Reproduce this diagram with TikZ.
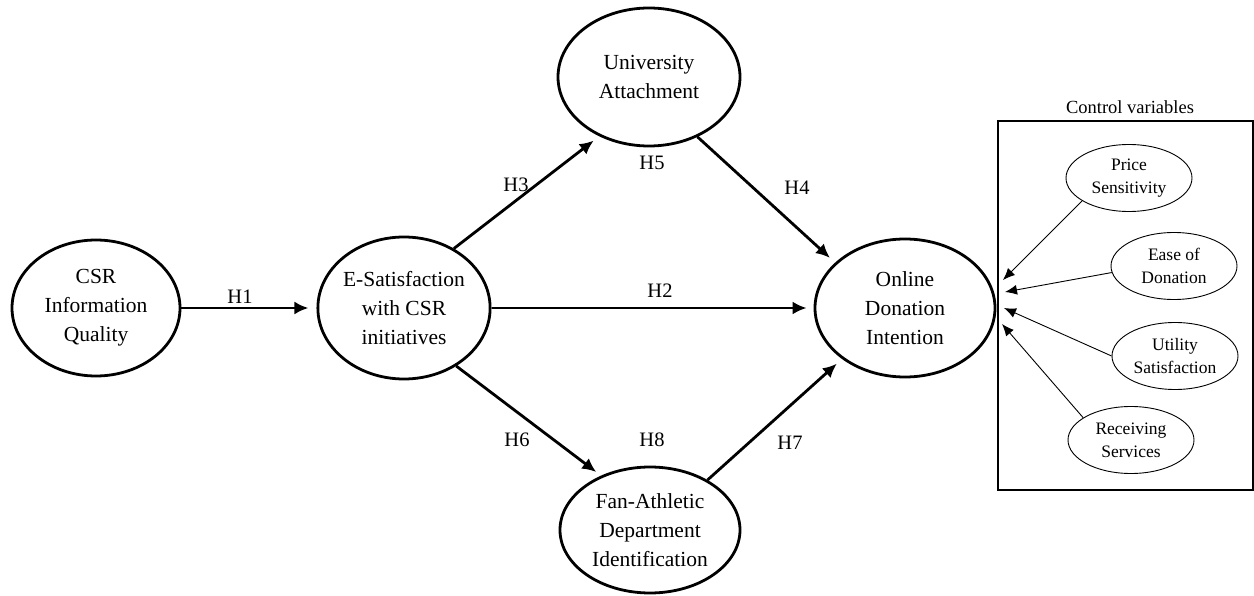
\documentclass[tikz,border=0pt]{standalone}
\usepackage{fontspec}
\setmainfont{Liberation Serif}
\usetikzlibrary{shapes.geometric,arrows.meta}
\begin{document}
\begin{tikzpicture}[x=1pt,y=-1pt,
  big/.style={ellipse,draw,line width=2.8pt,inner sep=0pt,align=center,font=\fontsize{21.5}{29}\selectfont},
  small/.style={ellipse,draw,line width=0.9pt,inner sep=0pt,align=center,font=\fontsize{17.5}{23}\selectfont,minimum width=126pt,minimum height=67pt},
  main/.style={line width=2.8pt,-{Latex[length=14pt,width=13pt]}},
  thin/.style={line width=0.9pt,-{Latex[length=12pt,width=10pt]}},
  hlab/.style={font=\fontsize{20.5}{24}\selectfont,inner sep=0pt}]
\useasboundingbox (0,0) rectangle (1254,596);
\node[big,minimum width=168pt,minimum height=136pt] (csr) at (96,308) {CSR\\Information\\Quality};
\node[big,minimum width=170pt,minimum height=142pt] (esat) at (404,308) {E-Satisfaction\\with CSR\\initiatives};
\node[big,minimum width=182pt,minimum height=138pt] (univ) at (649,77) {University\\Attachment};
\node[big,minimum width=180pt,minimum height=126pt] (fan) at (650,530) {Fan-Athletic\\Department\\Identification};
\node[big,minimum width=180pt,minimum height=138pt] (online) at (905,308) {Online\\Donation\\Intention};

\node[draw,line width=1.2pt,minimum width=255pt,minimum height=369pt,inner sep=0pt] (ctrlbox) at (1125.5,305.5) {};
\node[font=\fontsize{18.5}{22}\selectfont,inner sep=0pt] (ctrllab) at (1130,107) {Control variables};
\node[small] (price) at (1129,178) {Price\\Sensitivity};
\node[small] (ease) at (1174,266) {Ease of\\Donation};
\node[small] (util) at (1175,356) {Utility\\Satisfaction};
\node[small] (recv) at (1131,440) {Receiving\\Services};

\coordinate (p1) at (1003,280);
\coordinate (p2) at (1005,292);
\coordinate (p3) at (1004,308);
\coordinate (p4) at (1002,324);

\draw[main,shorten >=8pt] (csr) -- (esat);
\draw[main,shorten >=7pt] (esat) -- (online);
\draw[main,shorten >=7pt] (esat.50) -- (univ.230);
\draw[main,shorten >=7pt] (univ.-51) -- (online.147);
\draw[main,shorten >=6pt] (esat.-48) -- (fan.132);
\draw[main,shorten >=7pt] (fan.41) -- (online.219);

\draw[thin] (price.206) -- (p1);
\draw[thin] (ease.186) -- (p2);
\draw[thin] (util.west) -- (p3);
\draw[thin] (recv.155) -- (p4);

\node[hlab] (h1) at (240,297) {H1};
\node[hlab] (h2) at (660,291) {H2};
\node[hlab] (h3) at (516,185) {H3};
\node[hlab] (h5) at (652,163) {H5};
\node[hlab] (h4) at (797,188) {H4};
\node[hlab] (h6) at (517,440) {H6};
\node[hlab] (h8) at (652,440) {H8};
\node[hlab] (h7) at (790,443) {H7};
\end{tikzpicture}
\end{document}
